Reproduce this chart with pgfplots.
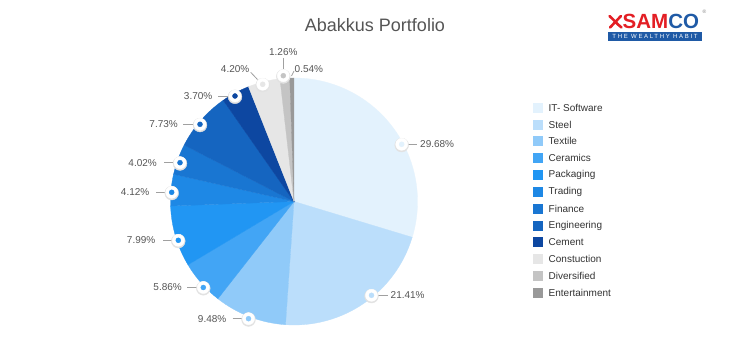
\documentclass[border=0pt]{standalone}
\usepackage{fontspec}
\setmainfont{Liberation Sans}
\newfontfamily\logofont{Liberation Sans}[LetterSpace=28]
\usepackage{pgfplots}
\usepackage{pgfplotstable}
\pgfplotsset{compat=1.18}

\definecolor{cIT}{HTML}{E3F2FD}
\definecolor{cSteel}{HTML}{BBDEFB}
\definecolor{cTextile}{HTML}{90CAF9}
\definecolor{cCeramics}{HTML}{42A5F5}
\definecolor{cPackaging}{HTML}{2196F3}
\definecolor{cTrading}{HTML}{1E88E5}
\definecolor{cFinance}{HTML}{1976D2}
\definecolor{cEngineering}{HTML}{1565C0}
\definecolor{cCement}{HTML}{0D47A1}
\definecolor{cConstruction}{HTML}{E6E6E6}
\definecolor{cDiversified}{HTML}{C4C4C4}
\definecolor{cEntertainment}{HTML}{999999}
\definecolor{labelgray}{HTML}{555555}
\definecolor{legendgray}{HTML}{333333}
\definecolor{leadergray}{HTML}{A0A0A0}
\definecolor{shadowgray}{HTML}{E2E2E2}
\definecolor{samcored}{HTML}{E31E24}
\definecolor{samcoblue}{HTML}{1F5AA6}

% portfolio shares (percent), clockwise from 12 o'clock
\pgfplotstableread[col sep=comma]{
name,value,col
IT- Software,29.68,cIT
Steel,21.41,cSteel
Textile,9.48,cTextile
Ceramics,5.86,cCeramics
Packaging,7.99,cPackaging
Trading,4.12,cTrading
Finance,4.02,cFinance
Engineering,7.73,cEngineering
Cement,3.70,cCement
Constuction,4.20,cConstruction
Diversified,1.26,cDiversified
Entertainment,0.54,cEntertainment
}\piedata

% label markers (pixel position of marker, class)
\pgfplotstableread{
x y cls
401.7 144.3 a
371.5 295.3 b
248.5 318.7 c
203.3 287.5 d
178.3 240.3 e
171.7 192.3 f
180.0 162.7 g
200.0 124.3 h
235.0 96.0 i
262.7 84.3 j
283.3 75.7 k
}\markerdata

\begin{document}
\begin{tikzpicture}
\begin{axis}[
  width=740pt, height=355pt, scale only axis,
  xmin=0, xmax=740, ymin=0, ymax=355, y dir=reverse,
  hide axis, clip=false,
]
\pgfplotsextra{
  \fill[white] (axis cs:0,0) rectangle (axis cs:740,355);
  % pie slices
  \gdef\cum{0}
  \foreach \i in {0,...,11}{
    \pgfplotstablegetelem{\i}{value}\of\piedata \let\v\pgfplotsretval
    \pgfplotstablegetelem{\i}{col}\of\piedata \let\mycol\pgfplotsretval
    \pgfmathsetmacro\sa{90-\cum*3.6}
    \pgfmathsetmacro\ea{90-(\cum+\v)*3.6}
    \fill[fill=\mycol, draw=\mycol, line width=0.3pt]
      (axis cs:294,201.5) -- ++(\sa:123.5pt)
      arc[start angle=\sa, end angle=\ea, radius=123.5pt] -- cycle;
    \pgfmathsetmacro\t{\cum+\v}\xdef\cum{\t}
  }
  % legend
  \foreach \i in {0,...,11}{
    \pgfplotstablegetelem{\i}{name}\of\piedata \let\nm\pgfplotsretval
    \pgfplotstablegetelem{\i}{col}\of\piedata \let\mycol\pgfplotsretval
    \pgfmathsetmacro\yy{107.7+\i*16.85}
    \fill[fill=\mycol] (axis cs:533.3,\yy-5) rectangle (axis cs:543.3,\yy+5);
    \node[anchor=west, inner sep=0pt, text=legendgray, font=\fontsize{10}{12}\selectfont]
      at (axis cs:548.5,\yy) {\nm};
  }
  % leader lines
  \begin{scope}[leadergray, line width=0.8pt]
    \draw (axis cs:408.3,144.3) -- (axis cs:417.3,144.3);
    \draw (axis cs:378.3,295.3) -- (axis cs:388.3,295.3);
    \draw (axis cs:232.7,318.7) -- (axis cs:242.0,318.7);
    \draw (axis cs:187.3,287.5) -- (axis cs:196.7,287.5);
    \draw (axis cs:163.0,240.3) -- (axis cs:172.0,240.3);
    \draw (axis cs:156.0,192.3) -- (axis cs:165.0,192.3);
    \draw (axis cs:164.0,162.7) -- (axis cs:173.0,162.7);
    \draw (axis cs:183.0,124.3) -- (axis cs:193.5,124.3);
    \draw (axis cs:218.0,96.0) -- (axis cs:228.0,96.0);
    \draw (axis cs:250.7,72.3) -- (axis cs:257.5,79.5);
    \draw (axis cs:283.3,58.0) -- (axis cs:283.3,69.5);
    \draw (axis cs:291.5,76.0) -- (axis cs:294.0,71.0);
  \end{scope}
  % percentage labels
  \begin{scope}[every node/.style={inner sep=0pt, text=labelgray, font=\fontsize{10}{12}\selectfont}]
    \node[anchor=west] at (axis cs:420.0,144.3) {29.68\%};
    \node[anchor=west] at (axis cs:390.5,295.3) {21.41\%};
    \node[anchor=east] at (axis cs:226.5,318.7) {9.48\%};
    \node[anchor=east] at (axis cs:182.0,287.5) {5.86\%};
    \node[anchor=east] at (axis cs:155.5,240.3) {7.99\%};
    \node[anchor=east] at (axis cs:149.5,192.3) {4.12\%};
    \node[anchor=east] at (axis cs:157.0,162.7) {4.02\%};
    \node[anchor=east] at (axis cs:178.0,124.3) {7.73\%};
    \node[anchor=east] at (axis cs:212.5,96.0) {3.70\%};
    \node[anchor=east] at (axis cs:249.5,69.0) {4.20\%};
    \node at (axis cs:283.3,52.3) {1.26\%};
    \node[anchor=west] at (axis cs:294.5,69.0) {0.54\%};
  \end{scope}
  % title
  \node[text=labelgray, font=\fontsize{18}{20}\selectfont] at (axis cs:375,25) {Abakkus Portfolio};
  % logo
  \begin{scope}
    \draw[samcored, line width=2.6pt, line cap=round] (axis cs:609.5,16) .. controls (axis cs:614,20) and (axis cs:617,24) .. (axis cs:621.5,27.5);
    \draw[samcored, line width=2.6pt, line cap=round] (axis cs:621,16) -- (axis cs:610,27.5);
    \node[anchor=west, inner sep=0pt, font=\fontsize{20.5}{20}\bfseries] at (axis cs:622.5,21.8)
      {\textcolor{samcored}{SAM}\textcolor{samcoblue}{CO}};
    \fill[samcoblue] (axis cs:608,32) rectangle (axis cs:702,40.7);
    \node[inner sep=0pt, text=white, font=\logofont\fontsize{6}{6}\selectfont] at (axis cs:655,36.4) {THE WEALTHY HABIT};
    \node[inner sep=0pt, text=gray, font=\fontsize{5}{5}\selectfont] at (axis cs:704.5,12) {\textregistered};
  \end{scope}
}
% marker shadows, white rings and coloured centres
\addplot[only marks, mark=*, mark size=6.9pt, color=shadowgray,
  mark options={draw=none, fill=shadowgray, yshift=-0.8pt}]
  table[x=x, y=y] {\markerdata};
\addplot[only marks, mark=*, mark size=6pt, color=white,
  mark options={draw=none, fill=white}]
  table[x=x, y=y] {\markerdata};
\addplot[scatter, only marks, mark=*, mark size=2.5pt,
  scatter src=explicit symbolic,
  scatter/classes={
    a={draw=cIT,fill=cIT},
    b={draw=cSteel,fill=cSteel},
    c={draw=cTextile,fill=cTextile},
    d={draw=cCeramics,fill=cCeramics},
    e={draw=cPackaging,fill=cPackaging},
    f={draw=cTrading,fill=cTrading},
    g={draw=cFinance,fill=cFinance},
    h={draw=cEngineering,fill=cEngineering},
    i={draw=cCement,fill=cCement},
    j={draw=cConstruction,fill=cConstruction},
    k={draw=cDiversified,fill=cDiversified}}]
  table[x=x, y=y, meta=cls] {\markerdata};
\end{axis}
\end{tikzpicture}
\end{document}
